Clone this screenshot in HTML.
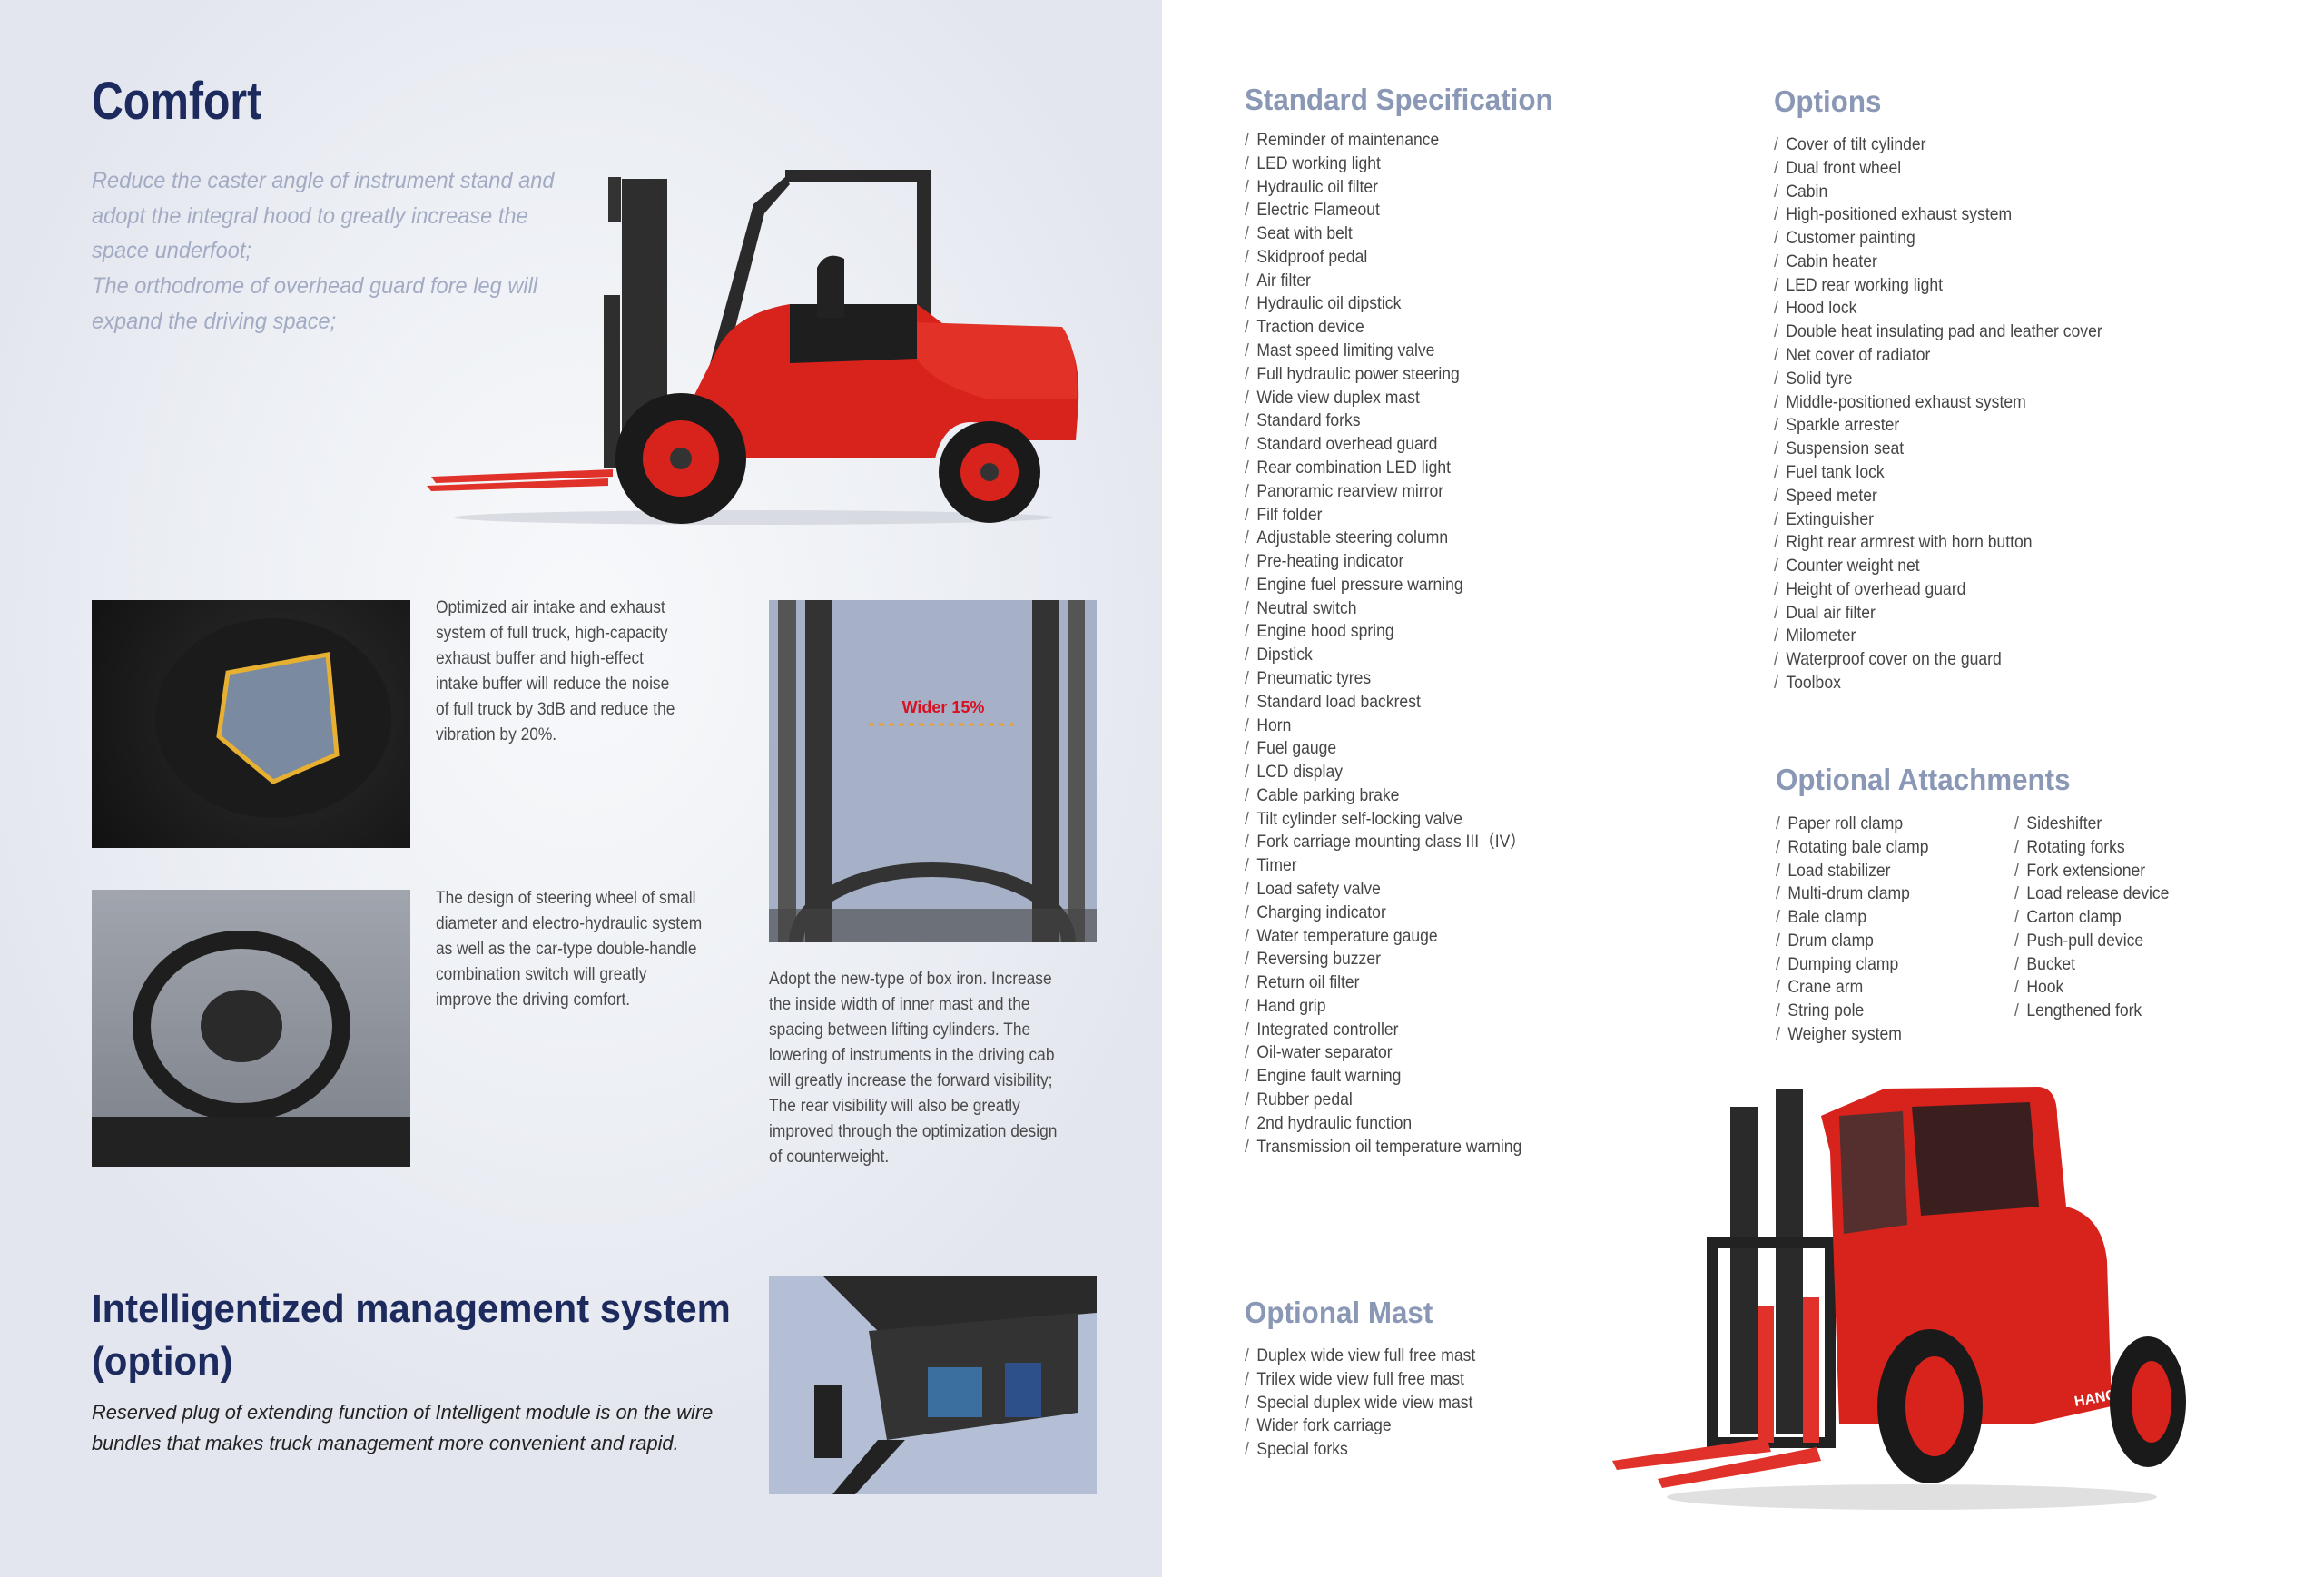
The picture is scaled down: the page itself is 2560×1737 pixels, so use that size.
<!DOCTYPE html>
<html><head><meta charset="utf-8">
<style>
*{margin:0;padding:0;box-sizing:border-box}
body{width:2560px;height:1737px;position:relative;overflow:hidden;background:#fff;font-family:"Liberation Sans Narrow","Liberation Sans",sans-serif}
#left{position:absolute;left:0;top:0;width:1280px;height:1737px;background:radial-gradient(ellipse 700px 900px at 640px 700px,#f8f9fb 0%,#eceff4 60%,#e3e6ee 100%)}
.abs{position:absolute;white-space:nowrap}
h1{position:absolute;font-weight:bold;color:#1c2a5e;white-space:nowrap;transform-origin:0 0}
h2{position:absolute;font-weight:bold;color:#8a97b5;font-size:33px;white-space:nowrap;transform:scaleX(0.95);transform-origin:0 0}
.list{position:absolute;font-size:19.5px;line-height:25.78px;color:#454545;white-space:nowrap;transform:scaleX(0.9);transform-origin:0 0}
.list div:before{content:"/ ";color:#666;padding-right:4px}
.body{position:absolute;font-size:19.5px;line-height:28px;color:#4a4a4a;white-space:nowrap;transform:scaleX(0.89);transform-origin:0 0}
.photo{position:absolute;overflow:hidden}
</style></head><body>
<div id="left"></div>

<h1 style="left:101px;top:78px;font-size:58px;transform:scaleX(0.83)">Comfort</h1>
<div class="abs" style="left:101px;top:180px;font-size:25px;line-height:38.7px;font-style:italic;color:#a3abc4;transform:scaleX(0.945);transform-origin:0 0">Reduce the caster angle of instrument stand and<br>adopt the integral hood to greatly increase the<br>space underfoot;<br>The orthodrome of overhead guard fore leg will<br>expand the driving space;</div>

<!-- forklift 1 -->
<svg class="abs" style="left:470px;top:185px" width="720" height="400" viewBox="0 0 720 400">
<ellipse cx="360" cy="385" rx="330" ry="8" fill="#c8ccd4" opacity=".6"/>
<rect x="200" y="10" width="14" height="50" fill="#333"/>
<rect x="395" y="2" width="160" height="14" fill="#2a2a2a"/>
<path d="M395 10 L360 40 L300 260 L318 262 L372 50 L400 18Z" fill="#2a2a2a"/>
<rect x="540" y="8" width="16" height="200" fill="#2a2a2a"/>
<rect x="215" y="12" width="50" height="320" fill="#2e2e2e"/>
<rect x="195" y="140" width="18" height="190" fill="#2e2e2e"/>
<path d="M320 200 Q340 160 400 150 L540 150 L580 180 L700 185 Q720 200 718 260 L715 300 L640 300 Q630 280 600 280 Q570 280 560 320 L300 320 L290 260Z" fill="#d8221c"/>
<path d="M400 150 L540 150 L540 210 L400 215Z" fill="#1e1e1e"/>
<path d="M430 110 Q440 90 460 100 L460 165 L430 165Z" fill="#222"/>
<path d="M540 170 L700 175 Q718 200 716 255 L620 255 Q560 240 540 210Z" fill="#e23126"/>
<circle cx="280" cy="320" r="72" fill="#1a1a1a"/>
<circle cx="280" cy="320" r="42" fill="#d8221c"/>
<circle cx="280" cy="320" r="12" fill="#333"/>
<circle cx="620" cy="335" r="56" fill="#1a1a1a"/>
<circle cx="620" cy="335" r="32" fill="#d8221c"/>
<circle cx="620" cy="335" r="10" fill="#333"/>
<path d="M5 340 L205 332 L205 340 L10 347Z" fill="#e0322a"/>
<path d="M0 350 L200 342 L200 350 L5 356Z" fill="#e0322a"/>
</svg>

<!-- photos -->
<div class="photo" style="left:101px;top:661px;width:351px;height:273px;background:radial-gradient(circle at 60% 45%,#555 0%,#222 40%,#111 100%)">
<svg width="351" height="273"><ellipse cx="200" cy="130" rx="130" ry="110" fill="#1b1b1b"/><path d="M150 80 L260 60 L270 170 L200 200 L140 150Z" fill="#7a8aa0" stroke="#e8b030" stroke-width="5"/></svg></div>
<div class="body" style="left:480px;top:655px">Optimized air intake and exhaust<br>system of full truck, high-capacity<br>exhaust buffer and high-effect<br>intake buffer will reduce the noise<br>of full truck by 3dB and reduce the<br>vibration by 20%.</div>

<div class="photo" style="left:847px;top:661px;width:361px;height:377px;background:#a6b1c8">
<svg width="361" height="377"><rect x="40" y="0" width="30" height="377" fill="#333"/><rect x="290" y="0" width="30" height="377" fill="#333"/><rect x="10" y="0" width="20" height="377" fill="#555"/><rect x="330" y="0" width="18" height="377" fill="#555"/>
<line x1="110" y1="137" x2="275" y2="137" stroke="#f0a020" stroke-width="3" stroke-dasharray="6 5"/>
<text x="192" y="124" font-family="Liberation Sans" font-weight="bold" font-size="18" fill="#d81020" text-anchor="middle">Wider 15%</text>
<ellipse cx="180" cy="377" rx="150" ry="80" fill="none" stroke="#333" stroke-width="16"/><rect x="0" y="340" width="361" height="37" fill="#444" opacity=".6"/></svg></div>

<div class="photo" style="left:101px;top:980px;width:351px;height:305px;background:linear-gradient(#c5cad4,#8a8e96)">
<svg width="351" height="305"><rect x="0" y="0" width="351" height="305" fill="#6a6e76" opacity=".4"/><ellipse cx="165" cy="150" rx="110" ry="95" fill="none" stroke="#1e1e1e" stroke-width="20"/><ellipse cx="165" cy="150" rx="45" ry="40" fill="#2a2a2a"/><rect x="0" y="250" width="351" height="55" fill="#222"/></svg></div>
<div class="body" style="left:480px;top:975px">The design of steering wheel of small<br>diameter and electro-hydraulic system<br>as well as the car-type double-handle<br>combination switch will greatly<br>improve the driving comfort.</div>

<div class="body" style="left:847px;top:1064px">Adopt the new-type of box iron. Increase<br>the inside width of inner mast and the<br>spacing between lifting cylinders. The<br>lowering of instruments in the driving cab<br>will greatly increase the forward visibility;<br>The rear visibility will also be greatly<br>improved through the optimization design<br>of counterweight.</div>

<h1 style="left:101px;top:1413px;font-size:44px;line-height:58px;transform:scaleX(0.95)">Intelligentized management system<br>(option)</h1>
<div class="abs" style="left:101px;top:1539px;font-size:22.5px;line-height:34px;font-style:italic;color:#222;transform:scaleX(0.97);transform-origin:0 0">Reserved plug of extending function of Intelligent module is on the wire<br>bundles that makes truck management more convenient and rapid.</div>

<div class="photo" style="left:847px;top:1406px;width:361px;height:240px;background:#b4bfd6">
<svg width="361" height="240"><path d="M60 0 L361 0 L361 40 L120 60Z" fill="#2a2a2a"/><path d="M110 60 L340 40 L340 150 L130 180Z" fill="#333"/><rect x="175" y="100" width="60" height="55" fill="#3a6fa0"/><rect x="260" y="95" width="40" height="60" fill="#2d4f8a"/><rect x="50" y="120" width="30" height="80" fill="#222"/><path d="M120 180 L150 180 L95 240 L70 240Z" fill="#222"/></svg></div>

<!-- right -->
<h2 style="left:1371px;top:91px">Standard Specification</h2>
<div class="list" style="left:1371px;top:142px">
<div>Reminder of maintenance</div><div>LED working light</div><div>Hydraulic oil filter</div><div>Electric Flameout</div><div>Seat with belt</div><div>Skidproof pedal</div><div>Air filter</div><div>Hydraulic oil dipstick</div><div>Traction device</div><div>Mast speed limiting valve</div><div>Full hydraulic power steering</div><div>Wide view duplex mast</div><div>Standard forks</div><div>Standard overhead guard</div><div>Rear combination LED light</div><div>Panoramic rearview mirror</div><div>Filf folder</div><div>Adjustable steering column</div><div>Pre-heating indicator</div><div>Engine fuel pressure warning</div><div>Neutral switch</div><div>Engine hood spring</div><div>Dipstick</div><div>Pneumatic tyres</div><div>Standard load backrest</div><div>Horn</div><div>Fuel gauge</div><div>LCD display</div><div>Cable parking brake</div><div>Tilt cylinder self-locking valve</div><div>Fork carriage mounting class III（IV）</div><div>Timer</div><div>Load safety valve</div><div>Charging indicator</div><div>Water temperature gauge</div><div>Reversing buzzer</div><div>Return oil filter</div><div>Hand grip</div><div>Integrated controller</div><div>Oil-water separator</div><div>Engine fault warning</div><div>Rubber pedal</div><div>2nd hydraulic function</div><div>Transmission oil temperature warning</div>
</div>

<h2 style="left:1954px;top:93px">Options</h2>
<div class="list" style="left:1954px;top:147px">
<div>Cover of tilt cylinder</div><div>Dual front wheel</div><div>Cabin</div><div>High-positioned exhaust system</div><div>Customer painting</div><div>Cabin heater</div><div>LED rear working light</div><div>Hood lock</div><div>Double heat insulating pad and leather cover</div><div>Net cover of radiator</div><div>Solid tyre</div><div>Middle-positioned exhaust system</div><div>Sparkle arrester</div><div>Suspension seat</div><div>Fuel tank lock</div><div>Speed meter</div><div>Extinguisher</div><div>Right rear armrest with horn button</div><div>Counter weight net</div><div>Height of overhead guard</div><div>Dual air filter</div><div>Milometer</div><div>Waterproof cover on the guard</div><div>Toolbox</div>
</div>

<h2 style="left:1956px;top:840px">Optional Attachments</h2>
<div class="list" style="left:1956px;top:895px">
<div>Paper roll clamp</div><div>Rotating bale clamp</div><div>Load stabilizer</div><div>Multi-drum clamp</div><div>Bale clamp</div><div>Drum clamp</div><div>Dumping clamp</div><div>Crane arm</div><div>String pole</div><div>Weigher system</div>
</div>
<div class="list" style="left:2219px;top:895px">
<div>Sideshifter</div><div>Rotating forks</div><div>Fork extensioner</div><div>Load release device</div><div>Carton clamp</div><div>Push-pull device</div><div>Bucket</div><div>Hook</div><div>Lengthened fork</div>
</div>

<h2 style="left:1371px;top:1427px">Optional Mast</h2>
<div class="list" style="left:1371px;top:1481px">
<div>Duplex wide view full free mast</div><div>Trilex wide view full free mast</div><div>Special duplex wide view mast</div><div>Wider fork carriage</div><div>Special forks</div>
</div>

<!-- forklift 2 -->
<svg class="abs" style="left:1776px;top:1189px" width="680" height="480" viewBox="0 0 680 480">
<ellipse cx="330" cy="460" rx="270" ry="14" fill="#ccc" opacity=".6"/>
<rect x="180" y="10" width="30" height="380" fill="#2a2a2a"/>
<rect x="130" y="30" width="30" height="360" fill="#2a2a2a"/>
<rect x="110" y="180" width="130" height="220" fill="none" stroke="#222" stroke-width="12"/>
<path d="M230 40 L300 10 L470 8 Q490 10 490 40 L500 140 Q540 150 545 200 L550 360 L460 380 L250 380 L240 80Z" fill="#d8221c"/>
<path d="M330 30 L460 25 L470 140 L340 150Z" fill="#1e1e1e" opacity=".85"/>
<path d="M250 40 L320 35 L325 160 L255 170Z" fill="#333" opacity=".8"/>
<text x="510" y="360" font-family="Liberation Sans" font-weight="bold" font-size="16" fill="#fff" transform="rotate(-10 510 360)">HANGCHA</text>
<ellipse cx="350" cy="360" rx="58" ry="85" fill="#1a1a1a"/>
<ellipse cx="355" cy="360" rx="32" ry="55" fill="#d8221c"/>
<ellipse cx="590" cy="355" rx="42" ry="72" fill="#1a1a1a"/>
<ellipse cx="594" cy="355" rx="22" ry="45" fill="#d8221c"/>
<rect x="160" y="250" width="18" height="150" fill="#e0322a"/>
<rect x="210" y="240" width="18" height="160" fill="#e0322a"/>
<path d="M0 420 L170 395 L175 410 L5 430Z" fill="#e0322a"/>
<path d="M50 440 L225 405 L230 420 L55 450Z" fill="#e0322a"/>
</svg>
</body></html>
